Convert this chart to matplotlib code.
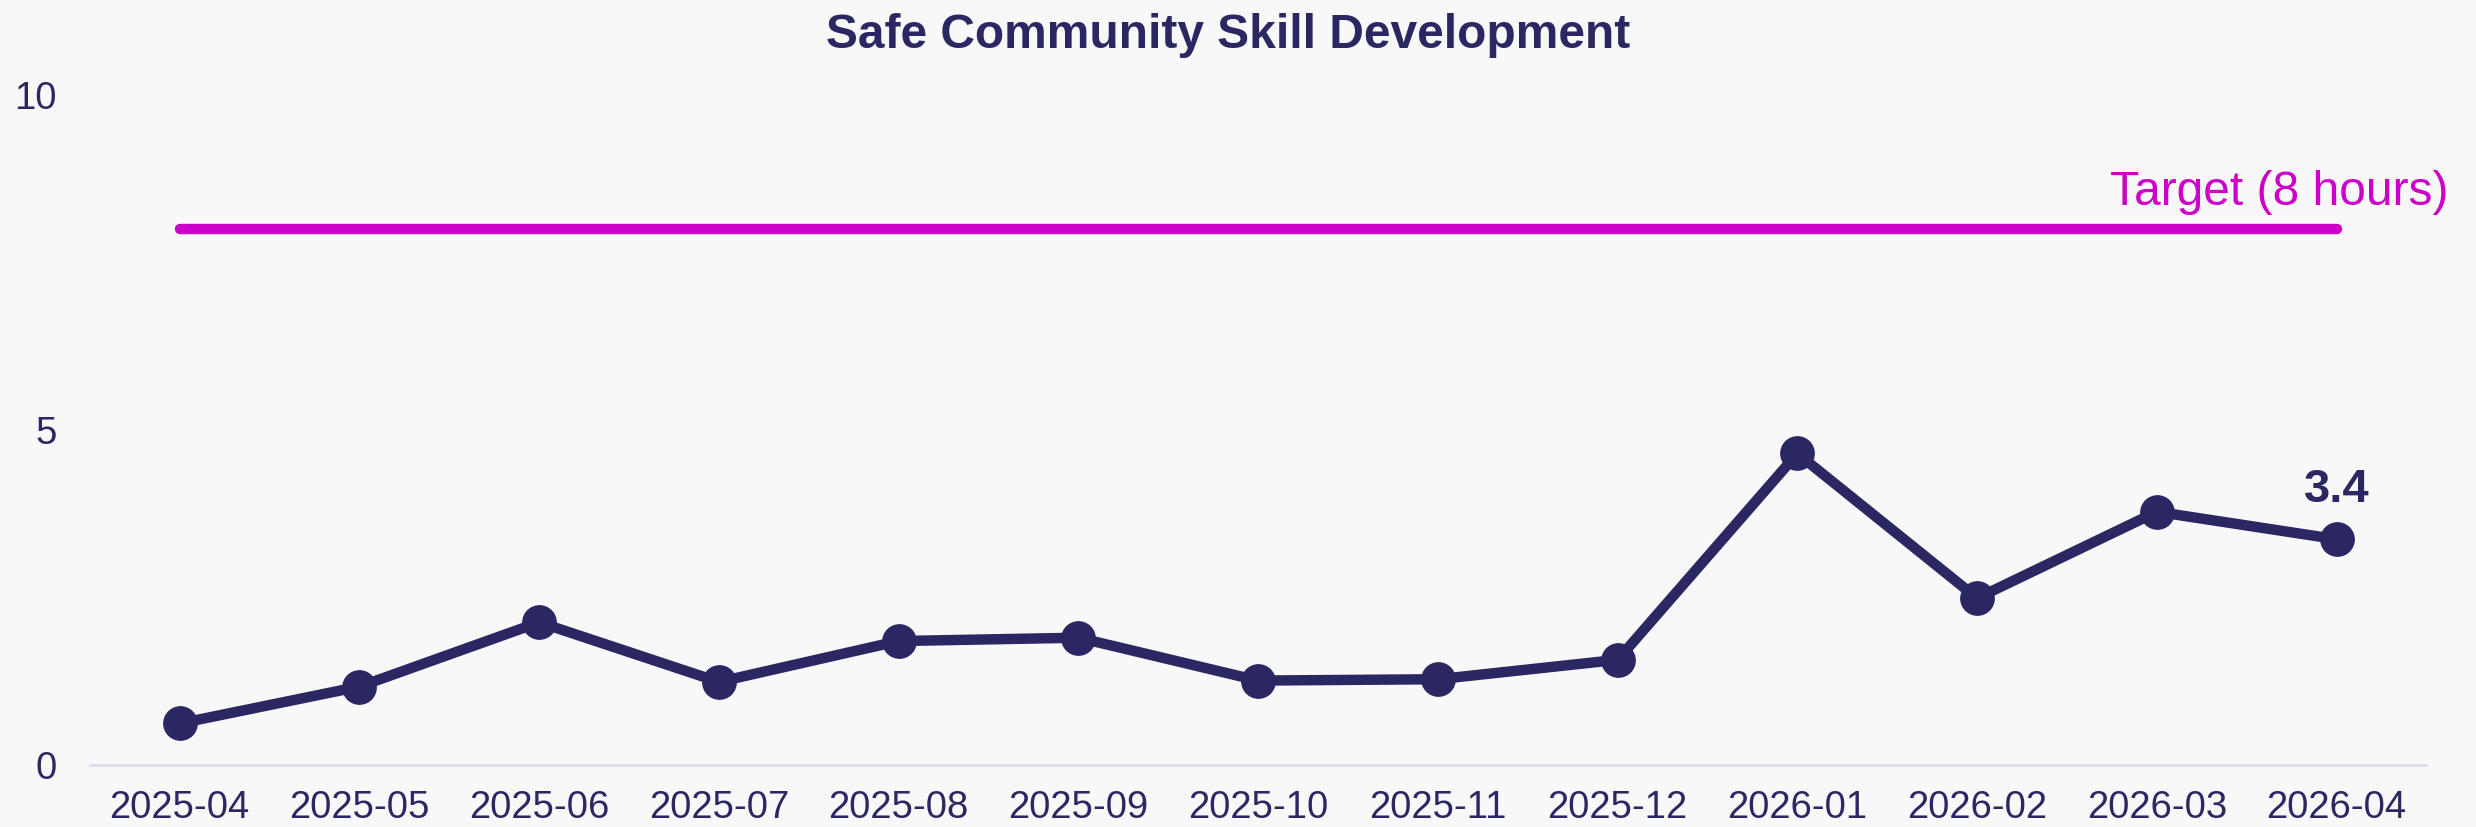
import matplotlib
matplotlib.use("Agg")
import matplotlib.pyplot as plt

months = ["2025-04", "2025-05", "2025-06", "2025-07", "2025-08", "2025-09", "2025-10",
          "2025-11", "2025-12", "2026-01", "2026-02", "2026-03", "2026-04"]
hours = [0.62, 1.17, 2.13, 1.24, 1.85, 1.90, 1.26, 1.28, 1.57, 4.65, 2.49, 3.78, 3.37]
target = 8
yticks = [0, 5, 10]
title = "Safe Community Skill Development"
target_label = "Target (8 hours)"
last_label = "3.4"

NAVY = "#2a2762"
MAGENTA = "#cc00c8"
BG = "#f8f8f8"

plt.rcParams["font.family"] = ["Liberation Sans", "DejaVu Sans"]

fig = plt.figure(figsize=(24.76, 8.27), dpi=100, facecolor=BG)
ax = fig.add_axes([0.0363, 0.075, 0.9437, 0.81])
ax.set_facecolor(BG)

x = list(range(len(months)))
ax.plot([x[0], x[-1]], [target, target], color=MAGENTA, lw=7.5, solid_capstyle="round", zorder=2)
ax.plot(x, hours, color=NAVY, lw=7.5, marker="o", markersize=24, zorder=3)

ax.set_xlim(-0.5, len(months) - 0.5)
ax.set_ylim(0, 10)
ax.set_xticks(x)
ax.set_xticklabels(months)
ax.set_yticks(yticks)
ax.set_yticklabels([str(v) for v in yticks])
ax.tick_params(axis="both", length=0, labelsize=27.5, colors=NAVY)
ax.tick_params(axis="x", pad=18)
ax.tick_params(axis="y", pad=24)
for s in ["top", "right", "left"]:
    ax.spines[s].set_visible(False)
ax.spines["bottom"].set_color("#dcdcf0")
ax.spines["bottom"].set_linewidth(2)

ax.text(12.62, 8.36, target_label, color=MAGENTA, fontsize=34.5, ha="right", va="baseline")
ax.annotate(last_label, (x[-1], hours[-1]), xytext=(0, 27), textcoords="offset points",
            ha="center", va="baseline", fontsize=34, fontweight="bold", color=NAVY)

fig.text(0.496, 0.957, title, ha="center", va="center", fontsize=34.5, fontweight="bold", color=NAVY)

fig.savefig("out.png", dpi=100, facecolor=BG)
